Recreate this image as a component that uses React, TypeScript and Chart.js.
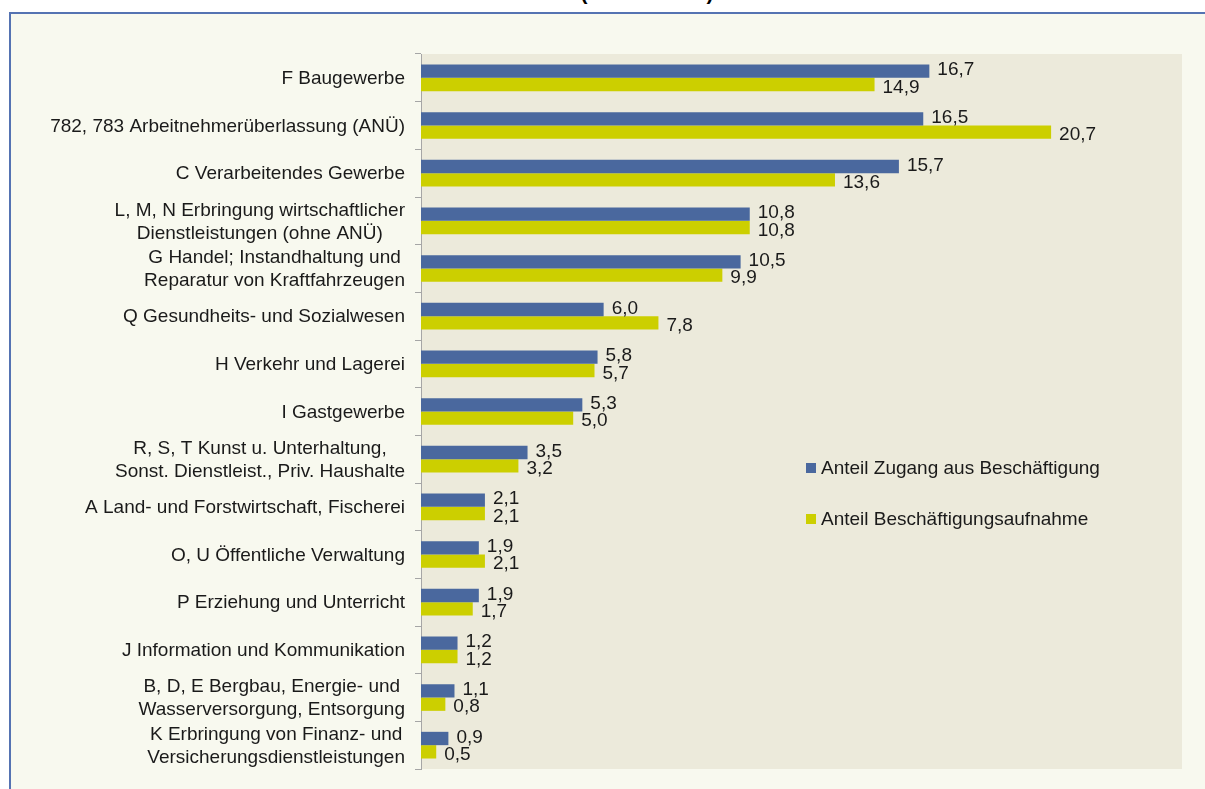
import React, { useEffect, useRef } from 'react';
import { Chart, registerables } from 'chart.js';

Chart.register(...registerables);

const categories: (string | string[])[] = [
  'F Baugewerbe',
  '782, 783 Arbeitnehmerüberlassung (ANÜ)',
  'C Verarbeitendes Gewerbe',
  ['L, M, N Erbringung wirtschaftlicher', 'Dienstleistungen (ohne ANÜ)'],
  ['G Handel; Instandhaltung und', 'Reparatur von Kraftfahrzeugen'],
  'Q Gesundheits- und Sozialwesen',
  'H Verkehr und Lagerei',
  'I Gastgewerbe',
  ['R, S, T Kunst u. Unterhaltung,', 'Sonst. Dienstleist., Priv. Haushalte'],
  'A Land- und Forstwirtschaft, Fischerei',
  'O, U Öffentliche Verwaltung',
  'P Erziehung und Unterricht',
  'J Information und Kommunikation',
  ['B, D, E Bergbau, Energie- und', 'Wasserversorgung, Entsorgung'],
  ['K Erbringung von Finanz- und', 'Versicherungsdienstleistungen'],
];

const zugangValues = [16.7, 16.5, 15.7, 10.8, 10.5, 6.0, 5.8, 5.3, 3.5, 2.1, 1.9, 1.9, 1.2, 1.1, 0.9];
const aufnahmeValues = [14.9, 20.7, 13.6, 10.8, 9.9, 7.8, 5.7, 5.0, 3.2, 2.1, 2.1, 1.7, 1.2, 0.8, 0.5];
const seriesNames = ['Anteil Zugang aus Beschäftigung', 'Anteil Beschäftigungsaufnahme'];
const seriesColors = ['#4A689E', '#CCCF00'];
const titleText = '(Anteile in %)';

const FONT = '19px "Liberation Sans", Arial, sans-serif';
const TEXT_COLOR = '#1a1a1a';

export default function App() {
  const ref = useRef<HTMLCanvasElement>(null);

  useEffect(() => {
    const canvas = ref.current!;

    const plotBg = {
      id: 'plotBg',
      beforeDraw(chart: any) {
        const { ctx, chartArea: a } = chart;
        ctx.save();
        ctx.fillStyle = '#ECEADB';
        ctx.fillRect(a.left, a.top, a.right - a.left, a.bottom - a.top);
        ctx.restore();
      },
    };

    const textPlugin = {
      id: 'textPlugin',
      afterDraw(chart: any) {
        const { ctx } = chart;
        const yScale = chart.scales.y;
        ctx.save();
        ctx.font = FONT;
        ctx.fillStyle = TEXT_COLOR;

        // category labels: blocks right-aligned, lines centered within block
        const labels = chart.data.labels as (string | string[])[];
        const lineH = 23;
        const rightEdge = 405;
        labels.forEach((lab, i) => {
          const lines = Array.isArray(lab) ? lab : [lab];
          const blockW = Math.max(...lines.map((l) => ctx.measureText(l).width));
          const cx = rightEdge - blockW / 2;
          const yc = yScale.getPixelForValue(i);
          const y0 = yc - ((lines.length - 1) * lineH) / 2;
          ctx.textAlign = 'center';
          ctx.textBaseline = 'middle';
          lines.forEach((l, k) => ctx.fillText(l, cx, y0 + k * lineH + 1));
        });

        // value labels
        ctx.textAlign = 'left';
        ctx.textBaseline = 'middle';
        chart.data.datasets.forEach((ds: any, di: number) => {
          const meta = chart.getDatasetMeta(di);
          meta.data.forEach((bar: any, i: number) => {
            const v = ds.data[i] as number;
            const txt = v.toFixed(1).replace('.', ',');
            ctx.fillText(txt, bar.x + 8, bar.y + (di === 0 ? -1 : 3));
          });
        });

        // legend
        const legendX = 806;
        const legendY = [468, 519];
        chart.data.datasets.forEach((ds: any, di: number) => {
          ctx.fillStyle = ds.backgroundColor;
          ctx.fillRect(legendX, legendY[di] - 5, 10, 10);
          ctx.fillStyle = TEXT_COLOR;
          ctx.textAlign = 'left';
          ctx.textBaseline = 'middle';
          ctx.fillText(ds.label, legendX + 15, legendY[di] + 1);
        });
        ctx.restore();
      },
    };

    const chart = new Chart(canvas, {
      type: 'bar',
      data: {
        labels: categories as any,
        datasets: [
          {
            label: seriesNames[0],
            data: zugangValues,
            backgroundColor: seriesColors[0],
            categoryPercentage: 0.56,
            barPercentage: 1,
          },
          {
            label: seriesNames[1],
            data: aufnahmeValues,
            backgroundColor: seriesColors[1],
            categoryPercentage: 0.56,
            barPercentage: 1,
          },
        ],
      },
      options: {
        indexAxis: 'y',
        responsive: false,
        animation: false,
        layout: { padding: { left: 0, top: 54, right: 23, bottom: 20 } },
        plugins: {
          legend: { display: false },
          tooltip: { enabled: false },
          title: { display: false },
        },
        scales: {
          x: { display: false, min: 0, max: 25 },
          y: {
            afterFit(s: any) {
              s.width = 421;
            },
            grid: {
              offset: true,
              drawOnChartArea: false,
              tickLength: 6,
              color: '#A6A6A6',
            },
            border: { color: '#A6A6A6' },
            ticks: { display: false },
          },
        },
      },
      plugins: [plotBg, textPlugin],
    });

    return () => chart.destroy();
  }, []);

  return (
    <div
      style={{
        position: 'absolute',
        left: 0,
        top: 0,
        width: 1205,
        height: 789,
        overflow: 'hidden',
        background: '#ffffff',
      }}
    >
      <div
        style={{
          position: 'absolute',
          left: 447,
          top: -18,
          width: 400,
          textAlign: 'center',
          font: 'bold 21px "Liberation Sans", Arial, sans-serif',
          lineHeight: '21px',
          color: '#000',
          whiteSpace: 'nowrap',
        }}
      >
        {titleText}
      </div>
      <div
        style={{
          position: 'absolute',
          left: 9,
          top: 12,
          width: 1300,
          height: 900,
          border: '2px solid #5573B2',
          background: '#F8F9EF',
        }}
      />
      <canvas
        ref={ref}
        width={1205}
        height={789}
        style={{ position: 'absolute', left: 0, top: 0, width: 1205, height: 789 }}
      />
    </div>
  );
}
